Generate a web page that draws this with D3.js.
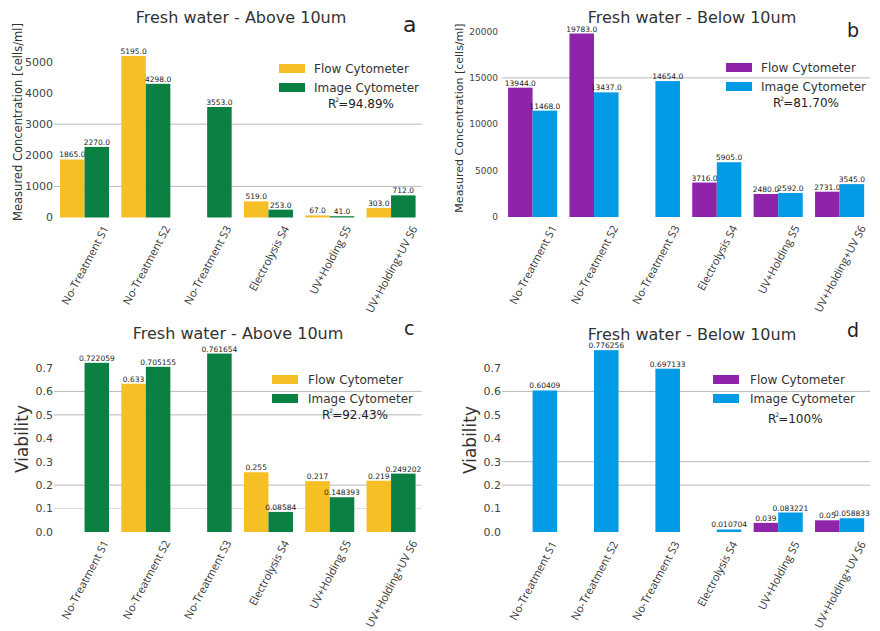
<!DOCTYPE html>
<html><head><meta charset="utf-8">
<script src="https://cdn.jsdelivr.net/npm/d3@7"></script>
<style>
html,body{margin:0;padding:0;background:#fff;}
svg{display:block;font-family:"DejaVu Sans",sans-serif;}
</style></head>
<body>
<svg id="chart" width="880" height="631"></svg>
<script>
// ---------- DATA ----------
const categories = ["No-Treatment S1","No-Treatment S2","No-Treatment S3","Electrolysis S4","UV+Holding S5","UV+Holding+UV S6"];
const seriesNames = ["Flow Cytometer","Image Cytometer"];
const aFlow  = [1865, 5195, null, 519, 67, 303];
const aImage = [2270, 4298, 3553, 253, 41, 712];
const bFlow  = [13944, 19783, null, 3716, 2480, 2731];
const bImage = [11468, 13437, 14654, 5905, 2592, 3545];
const cFlow  = [null, 0.633, null, 0.255, 0.217, 0.219];
const cImage = [0.722059, 0.705155, 0.761654, 0.08584, 0.148393, 0.249202];
const dFlow  = [null, null, null, null, 0.039, 0.05];
const dImage = [0.60409, 0.776256, 0.697133, 0.010704, 0.083221, 0.058833];
const concTicks = [0, 1000, 2000, 3000, 4000, 5000];
const concTicksB = [0, 5000, 10000, 15000, 20000];
const viabTicks = [0, 0.1, 0.2, 0.3, 0.4, 0.5, 0.6, 0.7];
const gridA = [1000, 3000];
const gridB = [15000];
const gridC = [0.1, 0.2, 0.5, 0.6];
const gridD = [0.2, 0.3, 0.6];
const titles = ["Fresh water - Above 10um","Fresh water - Below 10um","Fresh water - Above 10um","Fresh water - Below 10um"];
const letters = ["a","b","c","d"];
const r2 = ["94.89%","81.70%","92.43%","100%"];

// ---------- LAYOUT ----------
const svg = d3.select("#chart");
const YELLOW="#F6BF26", GREEN="#0B8043", PURPLE="#8E24AA", BLUE="#039BE5";

const panels = [
 {flow:aFlow, image:aImage, ticks:concTicks, grid:gridA, fmt:d3.format(".1f"), tfmt:d3.format("d"),
  colors:[YELLOW,GREEN], xr:[53.9,421.7], ydom:[0,5000], yr:[217.5,62], tickX:53, tickFs:11,
  ylabel:"Measured Concentration [cells/ml]", ylx:22, yly:122, ylfs:11.5,
  title:[241,23], letter:[403,32,22], leg:[279,64,314], r2:[328,108], xpad:6, gridLight:[]},
 {flow:bFlow, image:bImage, ticks:concTicksB, grid:gridB, fmt:d3.format(".1f"), tfmt:d3.format("d"),
  colors:[PURPLE,BLUE], xr:[501.9,870.3], ydom:[0,20000], yr:[217,31.5], tickX:498, tickFs:9,
  ylabel:"Measured Concentration [cells/ml]", ylx:463, yly:118, ylfs:11,
  title:[692,23], letter:[847,37,19], leg:[726,63,761], r2:[773,107], xpad:6, gridLight:[]},
 {flow:cFlow, image:cImage, ticks:viabTicks, grid:gridC, fmt:v=>String(v), tfmt:d3.format(".1f"),
  colors:[YELLOW,GREEN], xr:[53.9,421.7], ydom:[0,0.7], yr:[532,368], tickX:53, tickFs:11,
  ylabel:"Viability", ylx:28, yly:439, ylfs:17,
  title:[238,339], letter:[404,335,19], leg:[272,375,308], r2:[322,419], xpad:6, gridLight:[0.1]},
 {flow:dFlow, image:dImage, ticks:viabTicks, grid:gridD, fmt:v=>String(v), tfmt:d3.format(".1f"),
  colors:[PURPLE,BLUE], xr:[501.9,870.3], ydom:[0,0.7], yr:[532,368], tickX:501, tickFs:11,
  ylabel:"Viability", ylx:476, yly:440, ylfs:17,
  title:[692,340], letter:[847,337,19], leg:[713,375,750], r2:[768,423], xpad:7, gridLight:[]}
];

panels.forEach((p, pi) => {
  const g = svg.append("g");
  const x0 = d3.scaleBand().domain(categories).range(p.xr).paddingInner(0.2).paddingOuter(0.1);
  const x1 = d3.scaleBand().domain(seriesNames).range([0, x0.bandwidth()]);
  const y = d3.scaleLinear().domain(p.ydom).range(p.yr);

  // gridlines
  g.append("g").selectAll("line").data(p.grid).join("line")
    .attr("x1", p.xr[0]).attr("x2", p.xr[1])
    .attr("y1", d => y(d)).attr("y2", d => y(d))
    .attr("stroke", d => p.gridLight.includes(d) ? "#dcdcdc" : "#b8b8b8").attr("stroke-width", 1);

  // y tick labels
  g.append("g").selectAll("text").data(p.ticks).join("text")
    .attr("x", p.tickX).attr("y", d => y(d)).attr("dy", "0.35em")
    .attr("text-anchor", "end").attr("font-size", p.tickFs).attr("fill", "#444")
    .text(d => p.tfmt(d));

  // bars
  const rows = categories.map((c, i) => ({c, vals: [p.flow[i], p.image[i]]}));
  const grp = g.append("g").selectAll("g").data(rows).join("g")
    .attr("transform", d => `translate(${x0(d.c)},0)`);
  const cells = grp.selectAll("g").data(d => d.vals.map((v, k) => ({v, k}))
      .filter(e => e.v !== null)).join("g");
  cells.append("rect")
    .attr("x", e => x1(seriesNames[e.k])).attr("width", x1.bandwidth())
    .attr("y", e => y(e.v)).attr("height", e => y(0) - y(e.v))
    .attr("fill", e => p.colors[e.k]);
  cells.append("text")
    .attr("x", e => x1(seriesNames[e.k]) + x1.bandwidth() / 2)
    .attr("y", e => y(e.v) - 2)
    .attr("text-anchor", "middle").attr("font-size", 7.5).attr("fill", "#222")
    .text(e => p.fmt(e.v));

  // x tick labels (rotated, centred under group)
  const theta = 62 * Math.PI / 180;
  const xfs = 11;
  const xl = g.append("g").selectAll("text").data(categories).join("text")
    .attr("font-family", "'Open Sans', sans-serif")
    .attr("font-size", xfs).attr("fill", "#333").attr("text-anchor", "middle")
    .attr("dominant-baseline", "central").text(d => d);
  xl.each(function(d) {
    const L = this.getComputedTextLength();
    const h = xfs * 1.1;
    const H = L * Math.sin(theta) + h * Math.cos(theta);
    const cx = x0(d) + x0.bandwidth() / 2;
    const cy = y(0) + p.xpad + H / 2;
    d3.select(this).attr("transform", `translate(${cx},${cy}) rotate(-62)`);
  });

  // y axis label
  g.append("text")
    .attr("transform", `translate(${p.ylx},${p.yly}) rotate(-90)`)
    .attr("text-anchor", "middle").attr("font-size", p.ylfs).attr("fill", "#333")
    .text(p.ylabel);

  // title and letter
  g.append("text").attr("x", p.title[0]).attr("y", p.title[1])
    .attr("text-anchor", "middle").attr("font-size", 16).attr("fill", "#333")
    .text(titles[pi]);
  g.append("text").attr("x", p.letter[0]).attr("y", p.letter[1])
    .attr("font-size", p.letter[2]).attr("fill", "#222")
    .text(letters[pi]);

  // legend
  const lg = g.append("g");
  seriesNames.forEach((s, k) => {
    const yy = p.leg[1] + k * 19;
    lg.append("rect").attr("x", p.leg[0]).attr("y", yy).attr("width", 26).attr("height", 9)
      .attr("fill", p.colors[k]);
    lg.append("text").attr("x", p.leg[2]).attr("y", yy + 4.5).attr("dy", "0.35em")
      .attr("font-size", 12).attr("fill", "#333").text(s);
  });
  const rt = lg.append("text").attr("x", p.r2[0]).attr("y", p.r2[1])
    .attr("font-size", 12).attr("fill", "#222");
  rt.append("tspan").text("R");
  rt.append("tspan").attr("font-size", 6).attr("dx", -1).attr("dy", -6).text("2");
  rt.append("tspan").attr("dy", 6).attr("dx", -1).text("=" + r2[pi]);
});
</script>
</body></html>
